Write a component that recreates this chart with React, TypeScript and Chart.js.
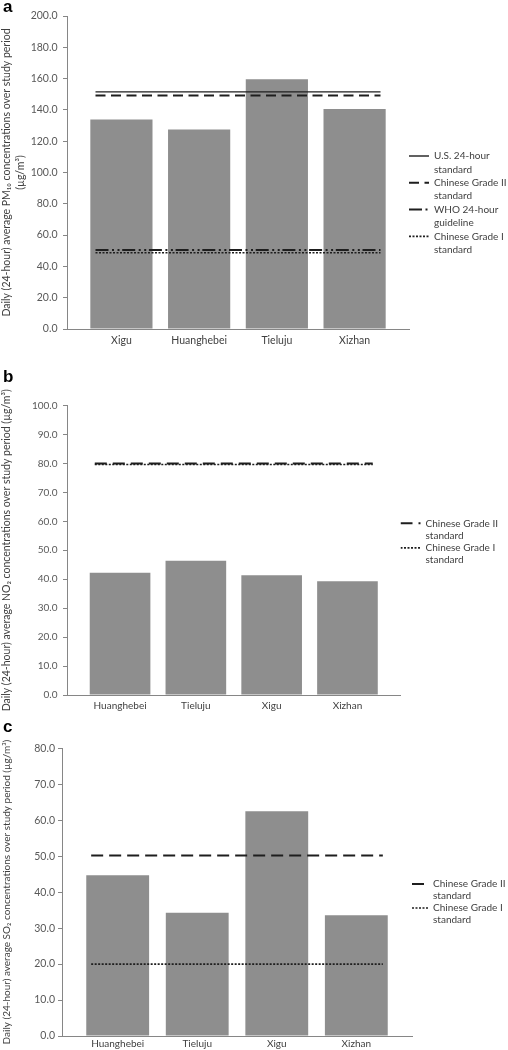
import React, { useEffect, useRef } from 'react';
import { Chart, registerables } from 'chart.js';

Chart.register(...registerables);

// ---------- data ----------
const sitesA = ['Xigu', 'Huanghebei', 'Tieluju', 'Xizhan'];
const pm10Values = [133.9, 127.5, 159.6, 140.6];
const yTicksA = [0, 20, 40, 60, 80, 100, 120, 140, 160, 180, 200];
const standardNamesA = [
  ['U.S. 24-hour', 'standard'],
  ['Chinese Grade II', 'standard'],
  ['WHO 24-hour', 'guideline'],
  ['Chinese Grade I', 'standard'],
];
const standardValuesA = [151.5, 149.2, 50.4, 48.7];
const yTitleA = ['Daily (24-hour) average PM\u2081\u2080 concentrations over study period', '(\u00b5g/m\u00b3)'];

const sitesB = ['Huanghebei', 'Tieluju', 'Xigu', 'Xizhan'];
const no2Values = [42.2, 46.4, 41.4, 39.3];
const yTicksB = [0, 10, 20, 30, 40, 50, 60, 70, 80, 90, 100];
const standardNamesB = [
  ['Chinese Grade II', 'standard'],
  ['Chinese Grade I', 'standard'],
];
const standardValuesB = [80.0, 79.6];
const yTitleB = 'Daily (24-hour) average NO\u2082 concentrations over study period (\u00b5g/m\u00b3)';

const sitesC = ['Huanghebei', 'Tieluju', 'Xigu', 'Xizhan'];
const so2Values = [44.7, 34.3, 62.5, 33.6];
const yTicksC = [0, 10, 20, 30, 40, 50, 60, 70, 80];
const standardNamesC = [
  ['Chinese Grade II', 'standard'],
  ['Chinese Grade I', 'standard'],
];
const standardValuesC = [50.2, 20.0];
const yTitleC = 'Daily (24-hour) average SO\u2082 concentrations over study period (\u00b5g/m\u00b3)';

// ---------- styles ----------
const FONT = 'Lato, "Liberation Sans", "DejaVu Sans", sans-serif';
const BAR = '#8e8e8e';
const AXIS = '#868686';
const TICK_TEXT = '#595959';
const TEXT = '#404040';
const LINE = '#1e1e1e';

const styleUS = { borderDash: [] as number[], borderWidth: 1.4 };
const styleG2a = { borderDash: [10, 5.5], borderWidth: 2 };
const styleG2 = { borderDash: [12, 6], borderWidth: 2 };
const styleWHO = { borderDash: [13, 3.5, 2, 3.5, 2, 2.7], borderWidth: 2 };
const styleG1 = { borderDash: [2, 1.5], borderWidth: 1.6 };

type PanelProps = {
  top: number;
  height: number;
  labels: string[];
  values: number[];
  yTicks: number[];
  yTitle: string | string[];
  stdNames: string[][];
  stdValues: number[];
  stdStyles: { borderDash: number[]; borderWidth: number }[];
  padTop: number;
  yWidth: number;
  xHeight: number;
  areaRight: number;
  boxWidth: number;
  legendOffset: number;
  legendLH: number;
  tickSize: number;
  catSize: number;
  titleSize: number;
  titleLH: number;
  xPad: number;
  yPad: number;
  barPct: number;
};

function Panel(p: PanelProps) {
  const ref = useRef<HTMLCanvasElement | null>(null);
  useEffect(() => {
    if (!ref.current) return;
    const legendWidth = 508 - p.areaRight;
    const catIndex = p.labels.map((_, i) => i);
    const lineSets = p.stdValues.map((v, i) => ({
      type: 'line' as const,
      label: p.stdNames[i].join(' '),
      data: [{ x: 0, y: v }, { x: 1, y: v }],
      xAxisID: 'x2',
      yAxisID: 'y',
      borderColor: LINE,
      backgroundColor: LINE,
      borderWidth: p.stdStyles[i].borderWidth,
      borderDash: p.stdStyles[i].borderDash,
      borderCapStyle: 'butt' as const,
      pointRadius: 0,
      fill: false,
      order: 0,
      clip: false as const,
    }));
    const chart = new Chart(ref.current, {
      type: 'bar',
      data: {
        datasets: [
          {
            type: 'bar',
            label: 'mean',
            data: p.values.map((v, i) => ({ x: catIndex[i], y: v })),
            backgroundColor: BAR,
            borderWidth: 0,
            barPercentage: p.barPct,
            categoryPercentage: 1,
            grouped: false,
            order: 1,
            xAxisID: 'x',
            yAxisID: 'y',
          },
          ...lineSets,
        ] as any,
      },
      options: {
        responsive: false,
        animation: false,
        layout: { padding: { top: p.padTop, right: 0, bottom: 0, left: 0 } },
        scales: {
          x: {
            type: 'linear',
            min: -0.7,
            max: p.labels.length - 1 + 0.7,
            offset: false,
            grid: { display: false, drawTicks: false },
            border: { display: true, color: AXIS, width: 1 },
            ticks: {
              color: TEXT,
              font: { family: FONT, size: p.catSize },
              padding: p.xPad,
              maxRotation: 0,
              autoSkip: false,
              callback: (v: any) => p.labels[Math.round(Number(v))] ?? '',
            },
            afterBuildTicks: (s: any) => { s.ticks = catIndex.map((v) => ({ value: v })); },
            afterFit: (s: any) => { s.height = p.xHeight; },
          },
          x2: { type: 'linear', display: false, min: 0, max: 1 },
          y: {
            type: 'linear',
            min: p.yTicks[0],
            max: p.yTicks[p.yTicks.length - 1],
            grid: { display: true, drawOnChartArea: false, drawTicks: true, tickLength: 4, color: AXIS },
            border: { display: true, color: AXIS, width: 1 },
            ticks: {
              color: TICK_TEXT,
              font: { family: FONT, size: p.tickSize },
              padding: p.yPad,
              callback: (v: any) => Number(v).toFixed(1),
            },
            afterBuildTicks: (s: any) => { s.ticks = p.yTicks.map((v) => ({ value: v })); },
            title: {
              display: true,
              text: p.yTitle as any,
              color: TEXT,
              font: { family: FONT, size: p.titleSize, lineHeight: p.titleLH },
              padding: 0,
            },
            afterFit: (s: any) => { s.width = p.yWidth; },
          },
        },
        plugins: {
          tooltip: { enabled: false },
          legend: {
            display: true,
            position: 'right',
            align: 'start',
            fullSize: false,
            maxWidth: legendWidth,
            title: {
              display: true,
              text: '',
              font: { size: 10, lineHeight: 1 },
              padding: { top: p.legendOffset - 10, bottom: 0 },
            },
            labels: {
              usePointStyle: true,
              pointStyleWidth: p.boxWidth,
              boxWidth: p.boxWidth,
              padding: 0,
              color: TEXT,
              font: { family: FONT, size: 10, lineHeight: p.legendLH },
              generateLabels: (c: any) =>
                c.data.datasets.slice(1).map((ds: any, i: number) => ({
                  text: p.stdNames[i],
                  datasetIndex: i + 1,
                  strokeStyle: ds.borderColor,
                  fillStyle: ds.borderColor,
                  lineWidth: ds.borderWidth,
                  lineDash: ds.borderDash,
                  lineCap: 'butt',
                  pointStyle: 'line',
                  hidden: false,
                  fontColor: TEXT,
                })),
            },
          },
        },
      } as any,
    });
    return () => chart.destroy();
  }, []);
  return (
    <canvas
      ref={ref}
      width={508}
      height={p.height}
      style={{ position: 'absolute', left: 0, top: p.top, width: 508, height: p.height, display: 'block' }}
    />
  );
}

const letterStyle = (top: number): React.CSSProperties => ({
  position: 'absolute',
  left: 3,
  top,
  font: 'bold 17px "Liberation Sans", Arial, sans-serif',
  lineHeight: '17px',
  color: '#000',
});

export default function App() {
  return (
    <div style={{ position: 'absolute', left: 0, top: 0, width: 508, height: 1050, background: '#fff', overflow: 'hidden' }}>
      <Panel
        top={0} height={352}
        labels={sitesA} values={pm10Values} yTicks={yTicksA} yTitle={yTitleA}
        stdNames={standardNamesA} stdValues={standardValuesA}
        stdStyles={[styleUS, styleG2a, styleWHO, styleG1]}
        padTop={16} yWidth={67} xHeight={23} areaRight={409} boxWidth={20}
        legendOffset={135} legendLH={1.34}
        tickSize={10.5} catSize={10.5} titleSize={10.5} titleLH={1.3} xPad={5.7} yPad={5.5} barPct={0.8}
      />
      <Panel
        top={372} height={350}
        labels={sitesB} values={no2Values} yTicks={yTicksB} yTitle={yTitleB}
        stdNames={standardNamesB} stdValues={standardValuesB}
        stdStyles={[styleG2, styleG1]}
        padTop={33.5} yWidth={67} xHeight={27} areaRight={397} boxWidth={20}
        legendOffset={112.8} legendLH={1.23}
        tickSize={10} catSize={10} titleSize={10.5} titleLH={1.3} xPad={4.7} yPad={5.5} barPct={0.8}
      />
      <Panel
        top={722} height={328}
        labels={sitesC} values={so2Values} yTicks={yTicksC} yTitle={yTitleC}
        stdNames={standardNamesC} stdValues={standardValuesC}
        stdStyles={[styleG2, styleG1]}
        padTop={26.3} yWidth={62} xHeight={14} areaRight={412} boxWidth={16}
        legendOffset={130.7} legendLH={1.2}
        tickSize={10.5} catSize={10} titleSize={10} titleLH={1.3} xPad={1.7} yPad={3} barPct={0.79}
      />
      <div style={letterStyle(-2.4)}>a</div>
      <div style={letterStyle(368)}>b</div>
      <div style={letterStyle(718)}>c</div>
    </div>
  );
}
